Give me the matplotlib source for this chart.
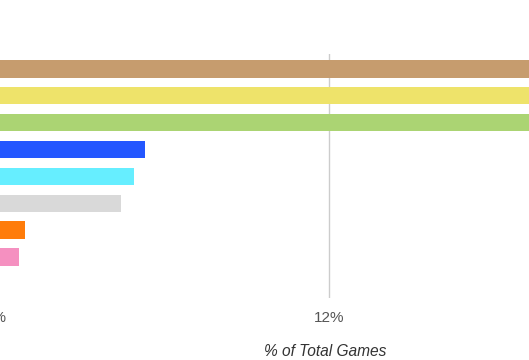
import matplotlib

matplotlib.use("Agg")
import matplotlib.pyplot as plt
from matplotlib.ticker import FuncFormatter

# Class share of games (percent); top three run past the visible edge
classes = ["Warrior", "Rogue", "Hunter", "Shaman", "Mage", "Priest", "Druid", "Paladin"]
share_pct = [21.5, 21.0, 20.5, 5.39, 4.98, 4.53, 1.09, 0.86]
bar_colors = ["#C69C6E", "#EEE36A", "#ABD473", "#2457FF", "#66EEFF", "#D9D9D9", "#FF7C0A", "#F590C0"]
x_ticks = [0, 12]

_GRID_COLOR = "#CCCCCC"
_TICK_COLOR = "#555555"
_LABEL_COLOR = "#333333"

W, H = 529, 360
fig = plt.figure(figsize=(W / 100, H / 100), dpi=100)
# plot area: 0% sits just off the left edge, 12% at x=329px
ax = fig.add_axes([-5 / W, (H - 298) / H, 668 / W, 244 / H])

ypos = list(range(len(classes)))
ax.barh(ypos, share_pct, height=0.65, color=bar_colors, zorder=2)

ax.set_xlim(0, 24)
ax.set_ylim(8.52, -0.55)
ax.set_xticks(x_ticks)
ax.xaxis.set_major_formatter(FuncFormatter(lambda v, _: f"{v:.0f}%"))
ax.set_yticks([])
ax.grid(axis="x", color=_GRID_COLOR, linewidth=1, zorder=0)
ax.tick_params(axis="x", length=0, pad=9, labelsize=11, labelcolor=_TICK_COLOR)
for spine in ax.spines.values():
    spine.set_visible(False)

fig.text(325 / W, 1 - 351 / H, "% of Total Games", ha="center", va="center",
         fontsize=11.2, style="italic", color=_LABEL_COLOR, family="Liberation Sans")
for lbl in ax.get_xticklabels():
    lbl.set_family("Liberation Sans")

fig.savefig("out.png", dpi=100)
